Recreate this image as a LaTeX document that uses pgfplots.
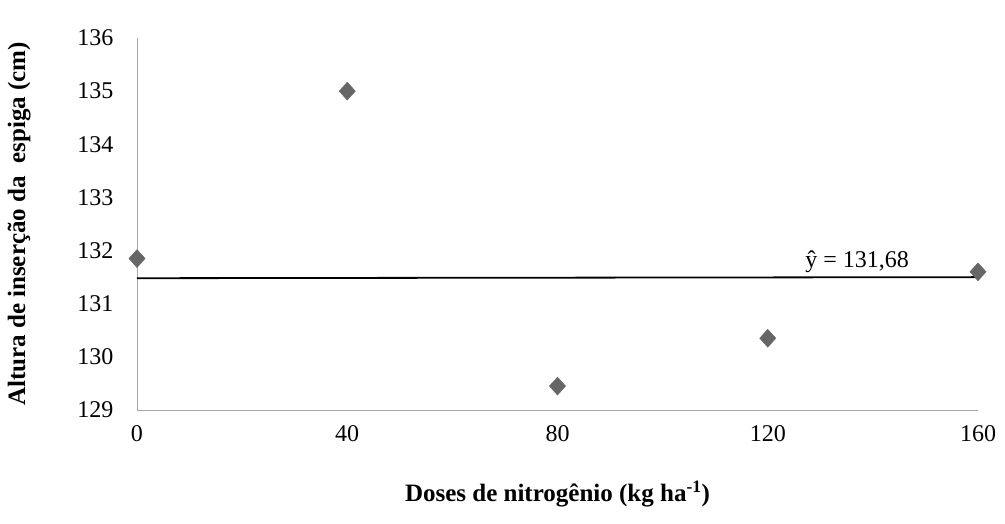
\documentclass[border=0pt]{standalone}
\usepackage{pgfplots}
\pgfplotsset{compat=1.18}
\usepackage{fontspec}
\setmainfont{Liberation Serif}
\begin{document}
\begin{tikzpicture}
\useasboundingbox (-137pt,-114pt) rectangle (868pt,410pt);
\begin{axis}[at={(0,0)},anchor=origin,
 scale only axis, width=841pt, height=372pt,
 xmin=0,xmax=160,ymin=129,ymax=136,
 xtick={0,40,80,120,160}, ytick={129,...,136},
 axis x line=bottom, axis y line=left,
 axis line style={-, gray!70}, tick style={draw=none},
 tick label style={font=\fontsize{24}{28}\selectfont},
 /pgf/number format/assume math mode=true,
 xticklabel style={yshift=-10pt}, yticklabel style={xshift=-18pt},
 xlabel={\textbf{Doses de nitrogênio (kg ha\textsuperscript{-1})}},
 ylabel={\textbf{Altura de inserção da\ \ espiga (cm)}},
 label style={font=\fontsize{25}{29}\selectfont},
 xlabel style={yshift=-32pt},
 ylabel style={at={(axis description cs:-0.14,0.5)}, anchor=center},
 clip=false]
\addplot[only marks, mark=diamond*, mark size=9pt, mark options={xscale=1.2}, color=black!60] coordinates {(0,131.85)(40,135)(80,129.45)(120,130.35)(160,131.6)};
\addplot[black, line width=1.8pt] coordinates {(0,131.48)(160,131.5)};
\node[font=\fontsize{24}{28}\selectfont, anchor=south] at (axis cs:137,131.52) {ŷ = 131,68};
\end{axis}
\end{tikzpicture}
\end{document}
